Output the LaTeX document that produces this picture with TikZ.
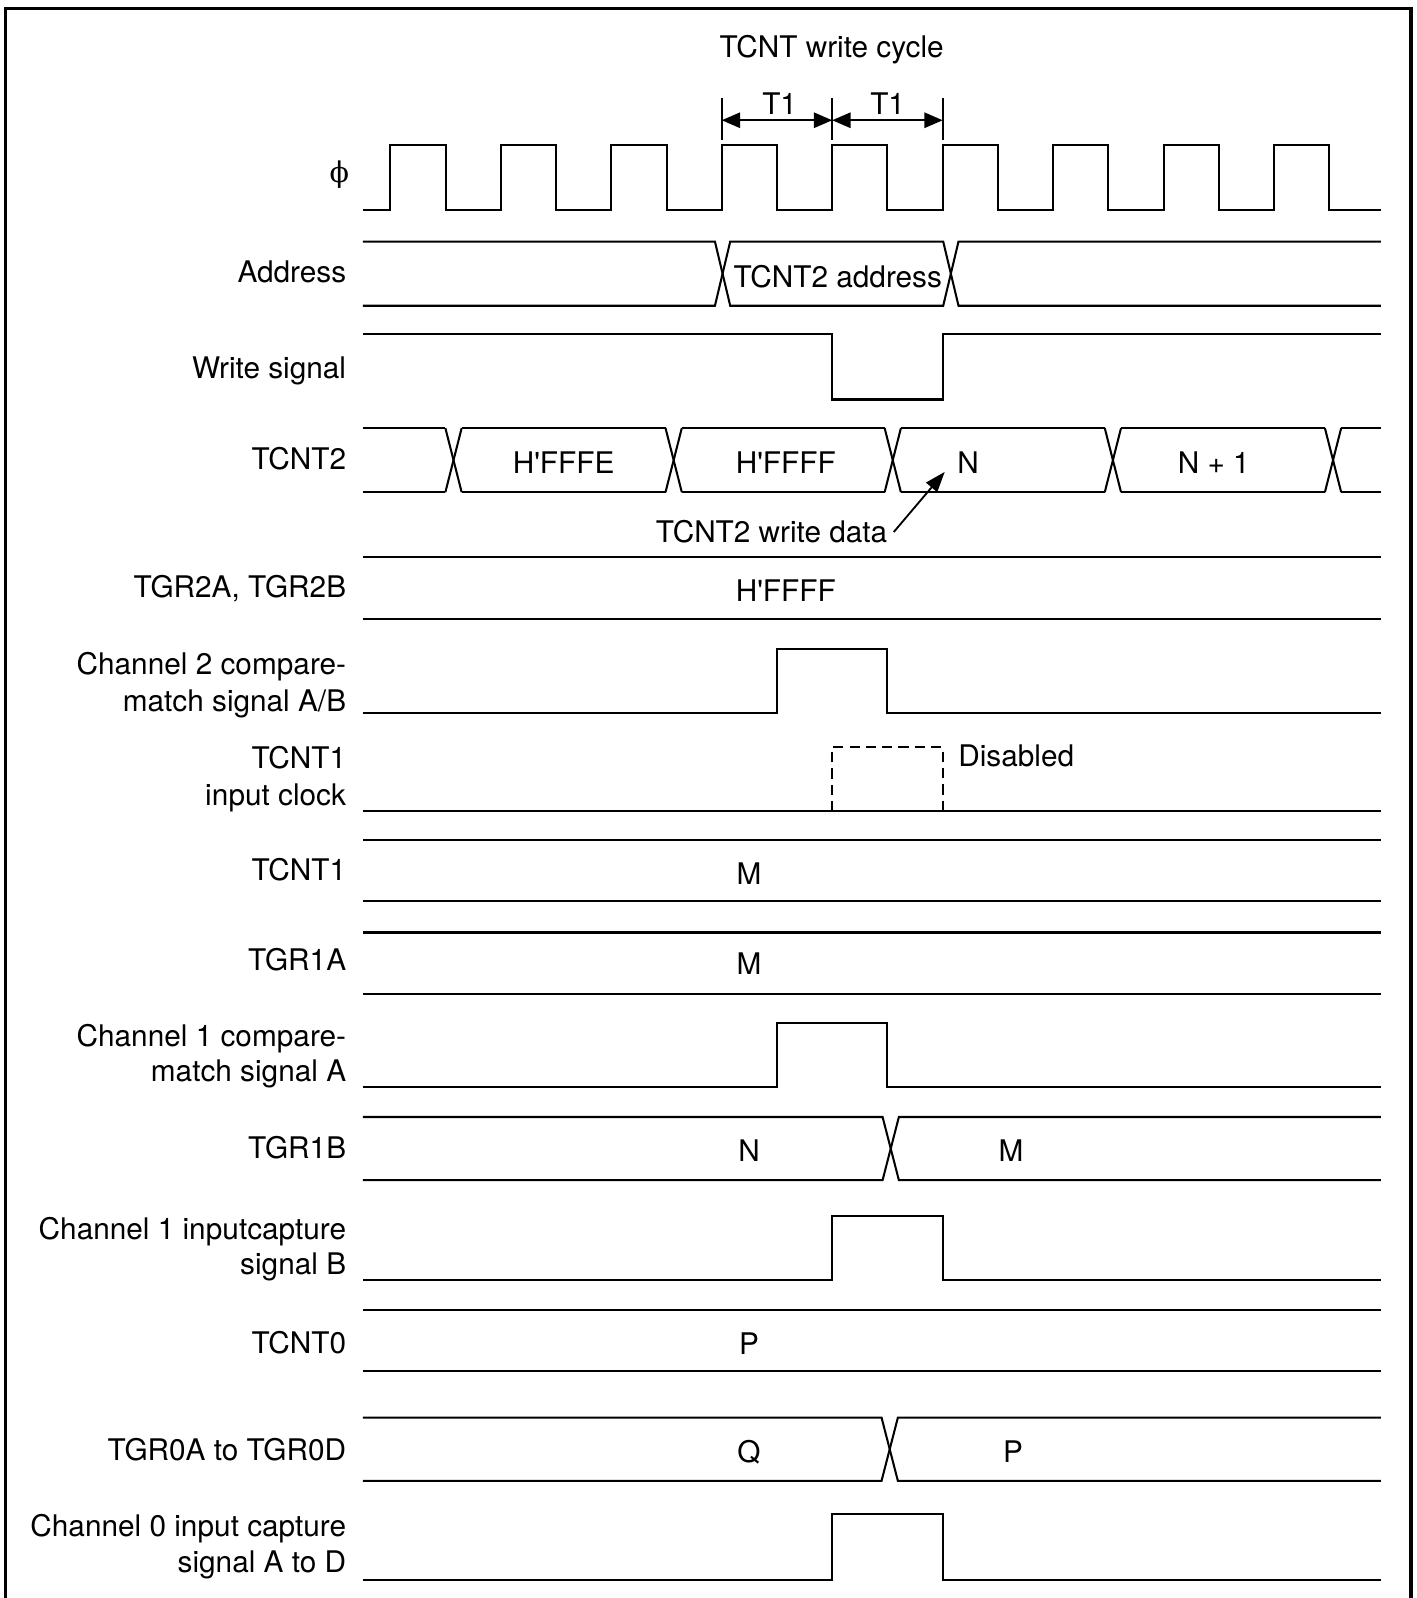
\documentclass[tikz,border=0pt]{standalone}
\usepackage{fontspec}
\setmainfont{TeX Gyre Heros}
\newfontfamily\phifont{DejaVu Serif}
\usetikzlibrary{arrows.meta}
\begin{document}
\begin{tikzpicture}[x=0.5pt,y=-0.5pt,
  sig/.style={line width=1pt,line join=miter},
  frm/.style={line width=1.6pt},
  lbl/.style={anchor=base east,inner sep=0pt,font=\fontsize{14.6pt}{17pt}\selectfont},
  val/.style={anchor=base,inner sep=0pt,font=\fontsize{14.6pt}{17pt}\selectfont},
  dim/.style={line width=1pt,{Triangle[length=9pt,width=7.5pt]}-{Triangle[length=9pt,width=7.5pt]}},
  tip/.style={line width=0.9pt,-{Triangle[length=10pt,width=7pt]}}]
\useasboundingbox (0,0) rectangle (1390,1568);
% frame
\draw[frm] (5.5,1575) -- (5.5,8.5) -- (1384.5,8.5) -- (1384.5,1575);

% labels
\node[inner sep=0pt,font=\phifont\fontsize{14pt}{17pt}\selectfont] (lphi) at (333,171.5) {ϕ};
\node[lbl] (laddr) at (340,277) {Address};
\node[lbl] (lwr) at (340,371) {Write signal};
\node[lbl] (ltc2) at (340,461) {TCNT2};
\node[lbl] (ltgr2) at (340,586) {TGR2A, TGR2B};
\node[lbl] (lc2a) at (340,662) {Channel 2 compare-};
\node[lbl] (lc2b) at (340,698) {match signal A/B};
\node[lbl] (lt1a) at (340,754) {TCNT1};
\node[lbl] (lt1b) at (340,790) {input clock};
\node[lbl] (ltc1) at (340,864) {TCNT1};
\node[lbl] (ltgr1a) at (340,952) {TGR1A};
\node[lbl] (lc1a) at (340,1027) {Channel 1 compare-};
\node[lbl] (lc1b) at (340,1061) {match signal A};
\node[lbl] (ltgr1b) at (340,1137) {TGR1B};
\node[lbl] (li1a) at (340,1216) {Channel 1 inputcapture};
\node[lbl] (li1b) at (340,1251) {signal B};
\node[lbl] (ltc0) at (340,1328) {TCNT0};
\node[lbl] (ltgr0) at (340,1433) {TGR0A to TGR0D};
\node[lbl] (li0a) at (340,1508) {Channel 0 input capture};
\node[lbl] (li0b) at (340,1543) {signal A to D};

% title and T1 dimension
\node[val] (title) at (816,56) {TCNT write cycle};
\coordinate (ta) at (708.2,118);
\coordinate (tb) at (816.6,118);
\coordinate (tc) at (925,118);
\draw[sig] (708.2,96) -- (708.2,137);
\draw[sig] (816.6,96) -- (816.6,137);
\draw[sig] (925,96) -- (925,137);
\draw[dim] (ta) -- (tb);
\draw[dim] (tb) -- (tc);
\node[val] (t1a) at (765,112) {T1};
\node[val] (t1b) at (871,112) {T1};

% clock
\draw[sig] (356,206) \foreach \i in {0,...,8} { -- ({383+108.4*\i},206) -- ({383+108.4*\i},142) -- ({437.2+108.4*\i},142) -- ({437.2+108.4*\i},206) } -- (1355,206);

% address
\draw[sig] (356,237) -- (701.5,237) -- (716.5,300) -- (925.5,300) -- (940.5,237) -- (1355,237);
\draw[sig] (356,300) -- (701.5,300) -- (716.5,237) -- (925.5,237) -- (940.5,300) -- (1355,300);
\node[val] (vaddr) at (822,282) {TCNT2 address};

% write signal
\draw[sig] (356,328) -- (816.6,328) -- (816.6,392) -- (925,392) -- (925,328) -- (1355,328);

% TCNT2 bus
\foreach \c in {445,661,876,1092,1308} {
  \draw[sig] ({\c-8},420) -- ({\c+8},483);
  \draw[sig] ({\c-8},483) -- ({\c+8},420);
}
\foreach \a/\b in {356/437,453/653,669/868,884/1084,1100/1300,1316/1355} {
  \draw[sig] (\a,420) -- (\b,420);
  \draw[sig] (\a,483) -- (\b,483);
}
\node[val] (v1) at (553,465) {H\textquotesingle FFFE};
\node[val] (v2) at (771,465) {H\textquotesingle FFFF};
\node[val] (v3) at (950,465) {N};
\node[val] (v4) at (1191,465) {N + 1};
\node[val,anchor=base east] (wd) at (871,532) {TCNT2 write data};
\coordinate (wds) at (877,522);
\coordinate (wdt) at (927,463);
\draw[tip] (wds) -- (wdt);

% TGR2A/B
\draw[sig] (356,547) -- (1355,547);
\draw[sig] (356,607) -- (1355,607);
\node[val] (v5) at (771,590) {H\textquotesingle FFFF};

% channel 2 compare match
\draw[sig] (356,700) -- (762.4,700) -- (762.4,637) -- (870.8,637) -- (870.8,700) -- (1355,700);

% TCNT1 input clock
\draw[sig] (356,796) -- (1355,796);
\draw[sig,dashed,dash pattern=on 5pt off 3pt] (816.6,796) -- (816.6,733) -- (925,733) -- (925,796);
\node[val,anchor=base west] (dis) at (940,752) {Disabled};

% TCNT1
\draw[sig] (356,824) -- (1355,824);
\draw[sig] (356,884) -- (1355,884);
\node[val] (v6) at (735,868) {M};

% TGR1A
\draw[sig] (356,915) -- (1355,915);
\draw[sig] (356,975) -- (1355,975);
\node[val] (v7) at (735,956) {M};

% channel 1 compare match A
\draw[sig] (356,1067) -- (762.4,1067) -- (762.4,1004) -- (870.8,1004) -- (870.8,1067) -- (1355,1067);

% TGR1B
\draw[sig] (356,1096) -- (866,1096) -- (882,1158) -- (1355,1158);
\draw[sig] (356,1158) -- (866,1158) -- (882,1096) -- (1355,1096);
\node[val] (v8) at (735,1140) {N};
\node[val] (v9) at (992,1140) {M};

% channel 1 input capture B
\draw[sig] (356,1256) -- (816.6,1256) -- (816.6,1193) -- (925,1193) -- (925,1256) -- (1355,1256);

% TCNT0
\draw[sig] (356,1285) -- (1355,1285);
\draw[sig] (356,1345) -- (1355,1345);
\node[val] (v10) at (735,1329) {P};

% TGR0A-D
\draw[sig] (356,1391) -- (865,1391) -- (881,1453) -- (1355,1453);
\draw[sig] (356,1453) -- (865,1453) -- (881,1391) -- (1355,1391);
\node[val] (v11) at (735,1435) {Q};
\node[val] (v12) at (994,1435) {P};

% channel 0 input capture
\draw[sig] (356,1550) -- (816.6,1550) -- (816.6,1486) -- (925,1486) -- (925,1550) -- (1355,1550);
\end{tikzpicture}
\end{document}
